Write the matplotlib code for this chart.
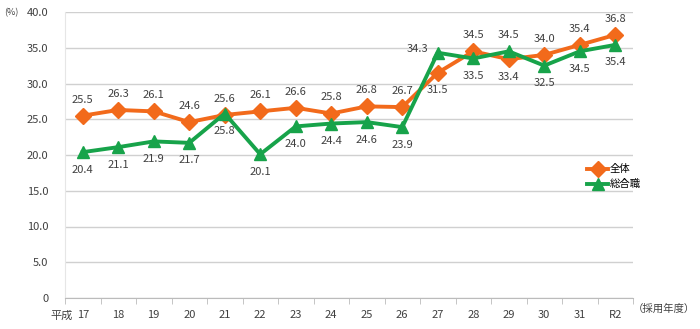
import matplotlib.pyplot as plt
import numpy as np

plt.rcParams['font.family'] = ['Noto Sans CJK JP', 'DejaVu Sans']

# -- data -----
years = ['17', '18', '19', '20', '21', '22', '23', '24', '25', '26', '27', '28', '29', '30', '31', 'R2']
zentai = [25.5, 26.3, 26.1, 24.6, 25.6, 26.1, 26.6, 25.8, 26.8, 26.7, 31.5, 34.5, 33.4, 34.0, 35.4, 36.8]
sogo = [20.4, 21.1, 21.9, 21.7, 25.8, 20.1, 24.0, 24.4, 24.6, 23.9, 34.3, 33.5, 34.5, 32.5, 34.5, 35.4]
# label position: 1 = above, -1 = below, 0 = left
zentai_pos = [1, 1, 1, 1, 1, 1, 1, 1, 1, 1, -1, 1, -1, 1, 1, 1]
sogo_pos = [-1, -1, -1, -1, -1, -1, -1, -1, -1, -1, 0, -1, 1, -1, -1, -1]

ORANGE = '#F26A1B'
GREEN = '#17A34A'
TXT = '#404040'

fig = plt.figure(figsize=(7, 3.29), dpi=100)
ax = fig.add_axes([65/700, 1 - 298/329, 568/700, 286/329])

x = np.arange(len(years))
ax.plot(x, zentai, color=ORANGE, lw=2.8, marker='D', ms=8, label='全体', zorder=3)
ax.plot(x, sogo, color=GREEN, lw=2.8, marker='^', ms=9, label='総合職', zorder=4)

def annotate(vals, pos):
    for xi, v, p in zip(x, vals, pos):
        if p == 1:
            ax.annotate(f'{v:.1f}', (xi, v), xytext=(0, 8), textcoords='offset points',
                        ha='center', va='bottom', fontsize=8, color=TXT)
        elif p == -1:
            ax.annotate(f'{v:.1f}', (xi, v), xytext=(0, -9), textcoords='offset points',
                        ha='center', va='top', fontsize=8, color=TXT)
        else:
            ax.annotate(f'{v:.1f}', (xi, v), xytext=(-7, 3), textcoords='offset points',
                        ha='right', va='center', fontsize=8, color=TXT)

annotate(zentai, zentai_pos)
annotate(sogo, sogo_pos)

ax.set_xlim(-0.5, len(years) - 0.5)
ax.set_ylim(0, 40)
ax.set_yticks(np.arange(0, 40.1, 5))
ax.set_yticklabels(['0'] + [f'{v:.1f}' for v in np.arange(5, 40.1, 5)])
ax.set_xticks(x)
ax.set_xticklabels(years)
ax.set_xticks(np.arange(-0.5, len(years), 1), minor=True)
ax.tick_params(axis='x', which='major', length=0, labelsize=8, colors=TXT, pad=9)
ax.tick_params(axis='x', which='minor', length=4, color='#bbbbbb', direction='out')
ax.tick_params(axis='y', length=0, labelsize=8, colors=TXT, pad=12)

ax.grid(axis='y', color='#d0d0d0', lw=1)
ax.set_axisbelow(True)
for s in ['top', 'right']:
    ax.spines[s].set_visible(False)
ax.spines['left'].set_color('#e6e6e6')
ax.spines['bottom'].set_color('#bbbbbb')

fig.text(4/700, 1 - 13/329, '(%)', fontsize=6.5, color=TXT, va='center')
fig.text(50/700, 1 - 316/329, '平成', fontsize=8, color=TXT, va='center')
fig.text(633/700, 1 - 309/329, '（採用年度）', fontsize=7.5, color=TXT, va='center')

ax.legend(loc='upper left', bbox_to_anchor=((583 - 65)/568, 1 - (160 - 12)/286),
          frameon=False, fontsize=7.5, handlelength=2, handletextpad=0.2,
          labelspacing=0.5, borderaxespad=0)

fig.savefig('out.png', dpi=100)
